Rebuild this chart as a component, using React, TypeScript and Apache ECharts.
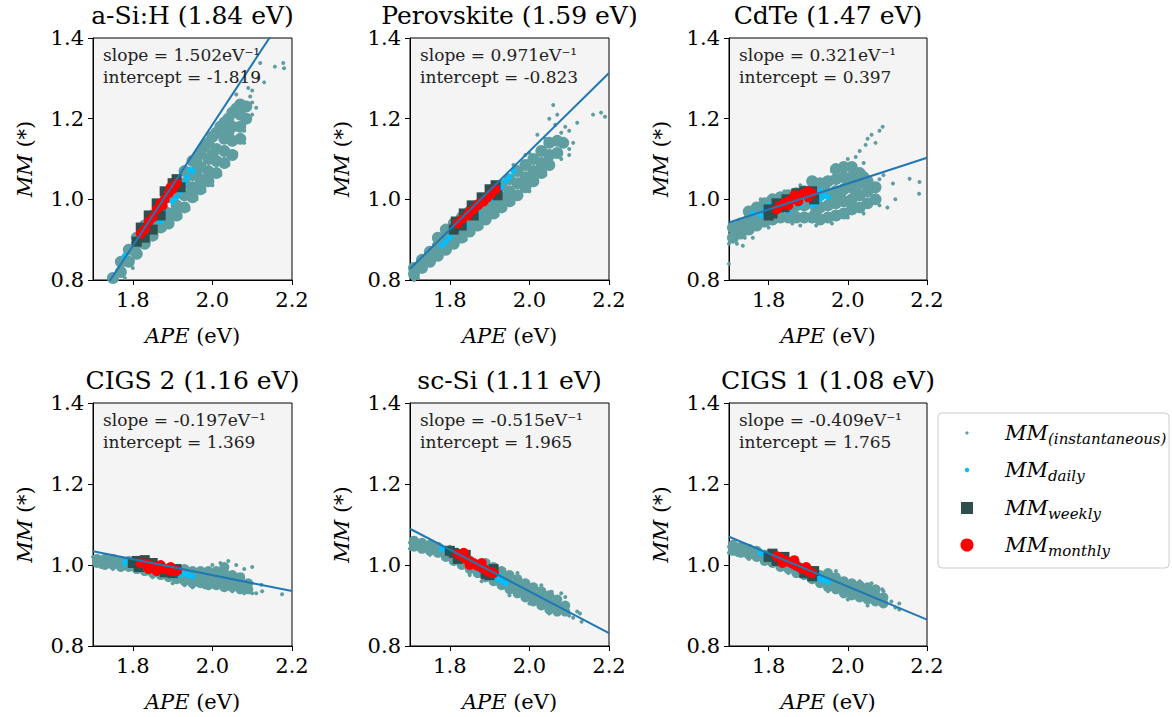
import React, { useEffect, useRef } from "react";
import * as echarts from "echarts";

const FONT = "'DejaVu Serif', 'Liberation Serif', serif";

const panelTitles = [
  "a-Si:H (1.84 eV)",
  "Perovskite (1.59 eV)",
  "CdTe (1.47 eV)",
  "CIGS 2 (1.16 eV)",
  "sc-Si (1.11 eV)",
  "CIGS 1 (1.08 eV)",
];
const slopes = [1.502, 0.971, 0.321, -0.197, -0.515, -0.409];
const intercepts = [-1.819, -0.823, 0.397, 1.369, 1.965, 1.765];
const xTicks = [1.8, 2.0, 2.2];
const yTicks = [0.8, 1.0, 1.2, 1.4];

// instantaneous MM (dense core of the cloud)
const instCore1 = [
  [1.75, 0.805], [1.77, 0.82], [1.77, 0.845], [1.79, 0.845], [1.79, 0.875], [1.81, 0.865], [1.81, 0.89], [1.81, 0.905],
  [1.83, 0.89], [1.83, 0.915], [1.83, 0.935], [1.85, 0.91], [1.85, 0.935], [1.85, 0.96], [1.87, 0.93], [1.87, 0.955],
  [1.87, 0.985], [1.89, 0.94], [1.89, 0.965], [1.89, 1.005], [1.91, 0.96], [1.91, 0.985], [1.91, 1.015], [1.91, 1.04],
  [1.93, 0.98], [1.93, 1.01], [1.93, 1.04], [1.93, 1.07], [1.95, 1.005], [1.95, 1.03], [1.95, 1.06], [1.95, 1.095],
  [1.97, 1.025], [1.97, 1.05], [1.97, 1.08], [1.97, 1.115], [1.99, 1.045], [1.99, 1.07], [1.99, 1.10], [1.99, 1.14],
  [2.01, 1.065], [2.01, 1.095], [2.01, 1.125], [2.01, 1.165], [2.03, 1.09], [2.03, 1.12], [2.03, 1.15], [2.03, 1.19],
  [2.05, 1.11], [2.05, 1.145], [2.05, 1.18], [2.05, 1.215], [2.07, 1.15], [2.07, 1.18], [2.07, 1.21], [2.07, 1.235],
  [2.085, 1.2], [2.085, 1.23], [1.96, 1.07], [2.0, 1.11], [2.04, 1.165], [1.92, 1.025], [1.88, 0.97], [1.84, 0.925],
  [1.96, 1.1], [1.98, 1.13], [2.0, 1.155], [2.02, 1.18], [2.04, 1.2], [2.06, 1.225],
];
const instSparse1 = [
  [1.745, 0.8], [1.76, 0.8], [1.78, 0.805], [1.8, 0.83], [2.1, 1.27], [2.12, 1.338], [2.115, 1.3], [2.157, 1.329],
  [2.178, 1.338], [2.18, 1.325], [2.1, 1.24], [2.11, 1.227], [2.09, 1.276], [2.06, 1.26], [2.13, 1.29], [2.08, 1.14],
  [2.095, 1.255], [2.1, 1.21], [1.8, 0.85], [1.84, 0.895], [1.88, 0.925], [1.92, 0.955], [1.96, 1.0], [2.0, 1.035],
  [2.04, 1.085], [2.06, 1.115], [2.08, 1.17], [1.94, 0.975], [1.98, 1.02], [2.02, 1.06],
];
const instCore2 = [
  [1.71, 0.815], [1.71, 0.83], [1.73, 0.83], [1.73, 0.85], [1.75, 0.845], [1.75, 0.87], [1.77, 0.86], [1.77, 0.885],
  [1.77, 0.905], [1.79, 0.875], [1.79, 0.9], [1.79, 0.925], [1.81, 0.89], [1.81, 0.915], [1.81, 0.94], [1.83, 0.905],
  [1.83, 0.93], [1.83, 0.955], [1.85, 0.92], [1.85, 0.945], [1.85, 0.97], [1.87, 0.935], [1.87, 0.96], [1.87, 0.985],
  [1.89, 0.95], [1.89, 0.975], [1.89, 1.0], [1.91, 0.965], [1.91, 0.99], [1.91, 1.015], [1.93, 0.98], [1.93, 1.005],
  [1.93, 1.035], [1.95, 0.995], [1.95, 1.02], [1.95, 1.05], [1.97, 1.01], [1.97, 1.04], [1.97, 1.07], [1.99, 1.03],
  [1.99, 1.055], [1.99, 1.085], [2.01, 1.045], [2.01, 1.07], [2.01, 1.1], [2.03, 1.065], [2.03, 1.09], [2.03, 1.12],
  [2.05, 1.085], [2.05, 1.11], [2.05, 1.14], [2.07, 1.115], [2.07, 1.145], [2.085, 1.14],
];
const instSparse2 = [
  [2.06, 1.234], [2.07, 1.21], [2.05, 1.2], [2.09, 1.18], [2.1, 1.17], [2.16, 1.21], [2.18, 1.215], [2.19, 1.205],
  [2.12, 1.19], [2.08, 1.165], [2.11, 1.14], [1.71, 0.8], [1.72, 0.805], [2.02, 1.16], [1.99, 1.11], [2.1, 1.125],
  [2.065, 1.185], [1.76, 0.845], [1.8, 0.875], [1.84, 0.9], [1.88, 0.93], [1.92, 0.96], [1.96, 0.99], [2.0, 1.02],
  [2.04, 1.06], [2.08, 1.1], [2.1, 1.11], [2.0, 1.115], [2.04, 1.15], [1.96, 1.085],
];
const instCore3 = [
  [1.71, 0.905], [1.71, 0.93], [1.73, 0.915], [1.73, 0.94], [1.75, 0.925], [1.75, 0.95], [1.75, 0.97], [1.77, 0.935],
  [1.77, 0.96], [1.77, 0.98], [1.79, 0.945], [1.79, 0.97], [1.79, 0.99], [1.81, 0.95], [1.81, 0.975], [1.81, 1.0],
  [1.83, 0.955], [1.83, 0.98], [1.83, 1.005], [1.85, 0.955], [1.85, 0.98], [1.85, 1.01], [1.87, 0.955], [1.87, 0.985],
  [1.87, 1.015], [1.89, 0.955], [1.89, 0.985], [1.89, 1.02], [1.91, 0.955], [1.91, 0.99], [1.91, 1.02], [1.91, 1.045],
  [1.93, 0.95], [1.93, 0.98], [1.93, 1.01], [1.93, 1.04], [1.95, 0.955], [1.95, 0.985], [1.95, 1.015], [1.95, 1.045],
  [1.97, 0.96], [1.97, 0.99], [1.97, 1.02], [1.97, 1.05], [1.97, 1.075], [1.99, 0.965], [1.99, 0.995], [1.99, 1.025],
  [1.99, 1.055], [1.99, 1.08], [2.01, 0.975], [2.01, 1.0], [2.01, 1.03], [2.01, 1.055], [2.01, 1.08], [2.03, 0.98],
  [2.03, 1.01], [2.03, 1.04], [2.03, 1.065], [2.05, 0.99], [2.05, 1.02], [2.05, 1.045], [2.07, 1.0], [2.07, 1.03],
  [1.96, 1.0], [1.98, 1.01], [2.0, 1.04], [2.02, 1.02], [1.94, 1.03], [1.92, 0.97], [2.04, 1.055], [1.86, 0.97],
];
const instSparse3 = [
  [1.7, 0.84], [1.7, 0.89], [1.72, 0.89], [1.735, 0.885], [1.76, 0.905], [2.03, 1.12], [2.05, 1.15], [2.06, 1.16],
  [2.08, 1.17], [2.088, 1.18], [2.02, 1.105], [2.114, 1.039], [2.156, 1.051], [2.181, 1.043], [2.18, 1.014], [2.1, 0.98],
  [2.09, 1.06], [2.12, 1.0], [1.88, 0.935], [1.92, 0.935], [2.045, 1.135], [2.07, 1.14], [1.74, 0.905], [1.8, 0.93],
  [1.86, 0.94], [1.96, 0.94], [2.0, 0.955], [2.04, 0.965], [2.08, 0.985], [1.78, 1.0], [1.84, 1.02], [1.88, 1.035],
  [1.96, 1.07], [2.0, 1.1], [2.04, 1.09], [2.08, 1.05],
];
const instCore4 = [
  [1.71, 1.005], [1.71, 1.015], [1.73, 1.0], [1.73, 1.015], [1.75, 1.0], [1.75, 1.015], [1.77, 0.995], [1.77, 1.01],
  [1.79, 0.995], [1.79, 1.01], [1.81, 0.99], [1.81, 1.005], [1.83, 0.985], [1.83, 1.0], [1.85, 0.98], [1.85, 0.995],
  [1.87, 0.975], [1.87, 0.99], [1.89, 0.97], [1.89, 0.985], [1.91, 0.965], [1.91, 0.98], [1.93, 0.96], [1.93, 0.975],
  [1.93, 0.99], [1.95, 0.955], [1.95, 0.97], [1.95, 0.985], [1.97, 0.955], [1.97, 0.97], [1.97, 0.985], [1.99, 0.95],
  [1.99, 0.965], [1.99, 0.985], [2.01, 0.95], [2.01, 0.965], [2.01, 0.985], [2.03, 0.945], [2.03, 0.96], [2.03, 0.98],
  [2.03, 0.995], [2.05, 0.945], [2.05, 0.96], [2.05, 0.975], [2.07, 0.94], [2.07, 0.955], [2.07, 0.97], [2.09, 0.94],
  [2.09, 0.955],
];
const instSparse4 = [
  [2.1, 0.995], [2.08, 0.99], [2.06, 1.0], [2.02, 1.005], [2.123, 0.951], [2.125, 0.935], [2.175, 0.928], [2.11, 0.93],
  [1.7, 1.02], [1.72, 0.995], [1.93, 0.95], [1.98, 0.945], [2.1, 0.93], [1.75, 0.99], [1.85, 0.97], [1.95, 0.945],
  [2.05, 0.935], [2.0, 1.0], [2.04, 1.01], [2.08, 0.93], [1.9, 0.955],
];
const instCore5 = [
  [1.71, 1.045], [1.71, 1.06], [1.73, 1.04], [1.73, 1.055], [1.75, 1.035], [1.75, 1.05], [1.77, 1.03], [1.77, 1.045],
  [1.79, 1.02], [1.79, 1.035], [1.81, 1.01], [1.81, 1.03], [1.83, 1.0], [1.83, 1.02], [1.85, 0.99], [1.85, 1.01],
  [1.87, 0.98], [1.87, 1.0], [1.89, 0.97], [1.89, 0.99], [1.89, 1.005], [1.91, 0.96], [1.91, 0.975], [1.91, 0.995],
  [1.93, 0.95], [1.93, 0.965], [1.93, 0.985], [1.95, 0.94], [1.95, 0.955], [1.95, 0.975], [1.97, 0.93], [1.97, 0.945],
  [1.97, 0.965], [1.99, 0.92], [1.99, 0.935], [1.99, 0.955], [2.01, 0.91], [2.01, 0.925], [2.01, 0.945], [2.03, 0.9],
  [2.03, 0.915], [2.03, 0.935], [2.05, 0.89], [2.05, 0.905], [2.05, 0.925], [2.07, 0.885], [2.07, 0.9], [2.07, 0.915],
  [2.09, 0.885], [2.09, 0.9],
];
const instSparse5 = [
  [1.7, 1.055], [1.7, 1.04], [2.056, 0.934], [2.09, 0.921], [2.08, 0.93], [2.127, 0.88], [2.131, 0.86], [2.11, 0.87],
  [2.12, 0.885], [2.1, 0.875], [1.88, 0.96], [1.95, 0.925], [1.75, 1.025], [1.85, 0.975], [2.0, 0.905], [2.05, 0.88],
  [1.8, 1.045], [1.97, 0.98], [2.03, 0.95],
];
const instCore6 = [
  [1.71, 1.035], [1.71, 1.05], [1.73, 1.03], [1.73, 1.045], [1.75, 1.025], [1.75, 1.04], [1.77, 1.02], [1.77, 1.035],
  [1.79, 1.01], [1.79, 1.025], [1.81, 1.005], [1.81, 1.02], [1.83, 0.995], [1.83, 1.015], [1.85, 0.99], [1.85, 1.005],
  [1.87, 0.98], [1.87, 1.0], [1.89, 0.975], [1.89, 0.99], [1.91, 0.965], [1.91, 0.985], [1.93, 0.955], [1.93, 0.975],
  [1.95, 0.945], [1.95, 0.965], [1.95, 0.98], [1.97, 0.94], [1.97, 0.955], [1.97, 0.97], [1.99, 0.93], [1.99, 0.945],
  [1.99, 0.96], [2.01, 0.925], [2.01, 0.94], [2.01, 0.955], [2.03, 0.92], [2.03, 0.935], [2.03, 0.95], [2.05, 0.915],
  [2.05, 0.93], [2.05, 0.945], [2.07, 0.91], [2.07, 0.925], [2.07, 0.94], [2.09, 0.905], [2.09, 0.92],
];
const instSparse6 = [
  [1.7, 1.045], [1.7, 1.03], [2.087, 0.94], [2.11, 0.91], [2.13, 0.905], [2.13, 0.89], [2.12, 0.895], [1.72, 1.025],
  [2.06, 0.955], [1.99, 0.925], [1.75, 1.015], [1.85, 0.98], [1.95, 0.935], [2.0, 0.915], [2.05, 0.9], [1.8, 1.035],
  [1.97, 0.985], [2.03, 0.96], [2.09, 0.935],
];

// daily MM
const daily1 = [
  [1.78, 0.86], [1.84, 0.93], [1.86, 0.95], [1.88, 0.97], [1.9, 0.995], [1.91, 1.005], [1.93, 1.04], [1.936, 1.055],
  [1.944, 1.073], [1.95, 1.07], [1.92, 1.02], [1.87, 0.945],
];
const daily2 = [
  [1.78, 0.885], [1.79, 0.895], [1.8, 0.905], [1.93, 1.03], [1.94, 1.045], [1.95, 1.055], [1.96, 1.07], [1.925, 1.02],
  [1.905, 1.0], [1.87, 0.965], [1.84, 0.935],
];
const daily3 = [
  [1.78, 0.96], [1.79, 0.975], [1.8, 0.985], [1.92, 0.99], [1.93, 1.0], [1.94, 1.01], [1.95, 1.005], [1.91, 0.985],
  [1.85, 0.97], [1.76, 0.965], [1.88, 0.985], [1.93, 1.02],
];
const daily4 = [
  [1.78, 1.005], [1.79, 1.01], [1.8, 1.0], [1.92, 0.98], [1.93, 0.978], [1.94, 0.975], [1.915, 0.975], [1.95, 0.972],
  [1.86, 0.99],
];
const daily5 = [
  [1.78, 1.04], [1.79, 1.035], [1.8, 1.03], [1.91, 0.97], [1.92, 0.965], [1.93, 0.96], [1.94, 0.955], [1.875, 0.985],
  [1.925, 0.972],
];
const daily6 = [
  [1.78, 1.03], [1.79, 1.025], [1.8, 1.015], [1.92, 0.97], [1.93, 0.965], [1.94, 0.962], [1.95, 0.958], [1.87, 0.99],
  [1.925, 0.978],
];

// weekly MM
const weekly1 = [
  [1.81, 0.895], [1.82, 0.93], [1.84, 0.96], [1.86, 0.99], [1.87, 0.96], [1.88, 1.02], [1.9, 1.04], [1.91, 1.05],
  [1.92, 1.03], [1.85, 0.925], [1.83, 0.905],
];
const weekly2 = [
  [1.81, 0.925], [1.815, 0.945], [1.835, 0.965], [1.855, 0.985], [1.88, 1.005], [1.9, 1.025], [1.915, 1.035],
  [1.92, 1.01], [1.83, 0.935], [1.86, 0.96],
];
const weekly3 = [
  [1.81, 0.965], [1.8, 0.975], [1.82, 0.99], [1.845, 1.0], [1.87, 1.015], [1.89, 1.02], [1.91, 1.02], [1.915, 1.0],
  [1.84, 0.98], [1.8, 0.96],
];
const weekly4 = [
  [1.81, 1.01], [1.8, 1.005], [1.815, 0.995], [1.83, 1.012], [1.85, 1.005], [1.9, 0.98], [1.91, 0.99], [1.88, 0.982],
];
const weekly5 = [
  [1.8, 1.035], [1.81, 1.03], [1.82, 1.015], [1.84, 1.025], [1.9, 0.975], [1.91, 0.99], [1.89, 0.978],
];
const weekly6 = [
  [1.81, 1.028], [1.8, 1.02], [1.82, 1.01], [1.84, 1.02], [1.91, 0.972], [1.915, 0.985], [1.89, 0.98],
];

// monthly MM
const monthly1 = [
  [1.82, 0.915], [1.83, 0.925], [1.84, 0.945], [1.85, 0.955], [1.86, 0.975], [1.87, 0.99], [1.88, 1.0], [1.89, 1.015],
  [1.9, 1.025], [1.91, 1.04], [1.875, 0.985], [1.895, 1.03],
];
const monthly2 = [
  [1.82, 0.94], [1.83, 0.95], [1.845, 0.96], [1.86, 0.975], [1.87, 0.985], [1.885, 0.995], [1.895, 1.005],
  [1.905, 1.015], [1.915, 1.025], [1.875, 0.99], [1.85, 0.97],
];
const monthly3 = [
  [1.82, 0.975], [1.83, 0.985], [1.84, 0.99], [1.85, 0.995], [1.86, 1.0], [1.87, 1.005], [1.88, 1.01], [1.89, 1.015],
  [1.9, 1.005], [1.91, 1.015], [1.875, 0.995], [1.865, 1.01], [1.85, 0.985], [1.9, 1.02],
];
const monthly4 = [
  [1.82, 1.005], [1.83, 1.003], [1.84, 1.0], [1.85, 0.998], [1.86, 0.995], [1.87, 0.993], [1.88, 0.99], [1.89, 0.988],
  [1.9, 0.985], [1.91, 0.985], [1.84, 0.99], [1.87, 1.0], [1.895, 0.995], [1.86, 0.985],
];
const monthly5 = [
  [1.82, 1.028], [1.83, 1.022], [1.84, 1.015], [1.85, 1.01], [1.86, 1.005], [1.87, 0.998], [1.88, 0.993], [1.89, 0.988],
  [1.9, 0.983], [1.91, 0.98], [1.85, 1.0], [1.88, 1.005], [1.835, 1.03],
];
const monthly6 = [
  [1.82, 1.022], [1.83, 1.018], [1.84, 1.012], [1.85, 1.008], [1.86, 1.003], [1.87, 0.998], [1.88, 0.993], [1.89, 0.99],
  [1.9, 0.985], [1.91, 0.98], [1.835, 1.005], [1.865, 1.012], [1.895, 0.995],
];

const instCore = [instCore1, instCore2, instCore3, instCore4, instCore5, instCore6];
const instSparse = [instSparse1, instSparse2, instSparse3, instSparse4, instSparse5, instSparse6];
const daily = [daily1, daily2, daily3, daily4, daily5, daily6];
const weekly = [weekly1, weekly2, weekly3, weekly4, weekly5, weekly6];
const monthly = [monthly1, monthly2, monthly3, monthly4, monthly5, monthly6];

const legendSub = ["(instantaneous)", "daily", "weekly", "monthly"];

const C_INST = "#5f9ea0";
const C_DAILY = "#00bfff";
const C_WEEKLY = "#2f4f4f";
const C_MONTHLY = "#ff0000";
const C_FIT = "#1f77b4";

const X_MIN = 1.7;
const X_MAX = 2.2;

export default function App() {
  const ref = useRef<HTMLDivElement>(null);

  useEffect(() => {
    document.body.style.margin = "0";
    const chart = echarts.init(ref.current!, null, { renderer: "svg" });

    const lefts = [93, 410, 729];
    const widths = [199, 199, 198];
    const tops = [38, 403];
    const heights = [242, 243];

    const grids: any[] = [];
    const xAxes: any[] = [];
    const yAxes: any[] = [];
    const series: any[] = [];
    const graphics: any[] = [];

    for (let i = 0; i < 6; i++) {
      const r = Math.floor(i / 3);
      const c = i % 3;
      const L = lefts[c];
      const T = tops[r];
      const W = widths[c];
      const H = heights[r];
      grids.push({
        left: L,
        top: T,
        width: W,
        height: H,
        show: true,
        backgroundColor: "#f4f4f4",
        borderColor: "#000",
        borderWidth: 1,
      });
      xAxes.push({
        gridIndex: i,
        type: "value",
        min: X_MIN,
        max: X_MAX,
        axisLine: { show: true, onZero: false, lineStyle: { color: "#000", width: 1 } },
        axisTick: { show: true, length: 5, customValues: xTicks, lineStyle: { color: "#000" } },
        axisLabel: {
          customValues: xTicks,
          formatter: (v: number) => v.toFixed(1),
          fontFamily: FONT,
          fontSize: 21,
          color: "#000",
          margin: 9,
        },
        splitLine: { show: false },
        name: "{i|APE} (eV)",
        nameLocation: "middle",
        nameGap: 45,
        nameTextStyle: {
          fontFamily: FONT,
          fontSize: 21,
          color: "#000",
          rich: { i: { fontFamily: FONT, fontSize: 21, fontStyle: "italic", color: "#000" } },
        },
      });
      yAxes.push({
        gridIndex: i,
        type: "value",
        min: 0.8,
        max: 1.4,
        interval: 0.2,
        axisLine: { show: true, onZero: false, lineStyle: { color: "#000", width: 1 } },
        axisTick: { show: true, length: 5, customValues: yTicks, lineStyle: { color: "#000" } },
        axisLabel: {
          customValues: yTicks,
          formatter: (v: number) => v.toFixed(1),
          fontFamily: FONT,
          fontSize: 21,
          color: "#000",
          margin: 9,
        },
        splitLine: { show: false },
        name: "{i|MM} (*)",
        nameLocation: "middle",
        nameRotate: 90,
        nameGap: 58,
        nameTextStyle: {
          fontFamily: FONT,
          fontSize: 21,
          color: "#000",
          rich: { i: { fontFamily: FONT, fontSize: 21, fontStyle: "italic", color: "#000" } },
        },
      });

      const big = r === 0 ? 12 : 10;
      series.push({
        type: "scatter",
        name: "MM instantaneous",
        xAxisIndex: i,
        yAxisIndex: i,
        data: instCore[i],
        symbol: "circle",
        symbolSize: big,
        itemStyle: { color: C_INST, opacity: 1 },
        silent: true,
      });
      series.push({
        type: "scatter",
        name: "MM instantaneous",
        xAxisIndex: i,
        yAxisIndex: i,
        data: instSparse[i],
        symbol: "circle",
        symbolSize: 4,
        itemStyle: { color: C_INST, opacity: 1 },
        silent: true,
      });
      series.push({
        type: "scatter",
        name: "MM daily",
        xAxisIndex: i,
        yAxisIndex: i,
        data: daily[i],
        symbol: "circle",
        symbolSize: 6,
        itemStyle: { color: C_DAILY, opacity: 1 },
        silent: true,
      });
      series.push({
        type: "scatter",
        name: "MM weekly",
        xAxisIndex: i,
        yAxisIndex: i,
        data: weekly[i],
        symbol: "rect",
        symbolSize: 10,
        itemStyle: { color: C_WEEKLY, opacity: 1 },
        silent: true,
      });
      series.push({
        type: "scatter",
        name: "MM monthly",
        xAxisIndex: i,
        yAxisIndex: i,
        data: monthly[i],
        symbol: "circle",
        symbolSize: 10,
        itemStyle: { color: C_MONTHLY, opacity: 1 },
        silent: true,
      });
      series.push({
        type: "line",
        name: "fit",
        xAxisIndex: i,
        yAxisIndex: i,
        data: [
          [X_MIN, slopes[i] * X_MIN + intercepts[i]],
          [X_MAX, slopes[i] * X_MAX + intercepts[i]],
        ],
        symbol: "none",
        clip: true,
        lineStyle: { color: C_FIT, width: 2 },
        silent: true,
        z: 5,
      });

      // title
      graphics.push({
        type: "text",
        x: L + W / 2,
        y: T - 23,
        style: {
          text: panelTitles[i],
          fontFamily: FONT,
          fontSize: 25,
          fill: "#000",
          align: "center",
          verticalAlign: "middle",
          textAlign: "center",
          textVerticalAlign: "middle",
        },
        z: 10,
      });
      // annotation
      graphics.push({
        type: "text",
        x: L + 10,
        y: T + 17,
        style: {
          text: "slope = " + slopes[i].toFixed(3) + "eV\u207B\u00B9",
          fontFamily: FONT,
          fontSize: 17,
          fill: "#222",
          align: "left",
          verticalAlign: "middle",
          textAlign: "left",
          textVerticalAlign: "middle",
        },
        z: 10,
      });
      graphics.push({
        type: "text",
        x: L + 10,
        y: T + 39,
        style: {
          text: "intercept = " + intercepts[i].toFixed(3),
          fontFamily: FONT,
          fontSize: 17,
          fill: "#222",
          align: "left",
          verticalAlign: "middle",
          textAlign: "left",
          textVerticalAlign: "middle",
        },
        z: 10,
      });
    }

    // legend box
    graphics.push({
      type: "rect",
      shape: { x: 938, y: 413, width: 231, height: 155, r: 4 },
      style: { fill: "#ffffff", stroke: "#cccccc", lineWidth: 1 },
      z: 10,
    });
    const rowsY = [433, 470, 508, 545];
    const iconX = 967;
    graphics.push({ type: "circle", shape: { cx: iconX, cy: rowsY[0], r: 1.6 }, style: { fill: C_INST }, z: 11 });
    graphics.push({ type: "circle", shape: { cx: iconX, cy: rowsY[1], r: 2.2 }, style: { fill: C_DAILY }, z: 11 });
    graphics.push({
      type: "rect",
      shape: { x: iconX - 6, y: rowsY[2] - 6, width: 12, height: 12 },
      style: { fill: C_WEEKLY },
      z: 11,
    });
    graphics.push({ type: "circle", shape: { cx: iconX, cy: rowsY[3], r: 6.5 }, style: { fill: C_MONTHLY }, z: 11 });
    for (let k = 0; k < 4; k++) {
      graphics.push({
        type: "text",
        x: 1005,
        y: rowsY[k],
        style: {
          text: "{m|MM}{s|" + legendSub[k] + "}",
          fontFamily: FONT,
          fill: "#000",
          align: "left",
          verticalAlign: "middle",
          textAlign: "left",
          textVerticalAlign: "middle",
          rich: {
            m: { fontFamily: FONT, fontSize: 21, fontStyle: "italic", fill: "#000", lineHeight: 26 },
            s: { fontFamily: FONT, fontSize: 15, fontStyle: "italic", fill: "#000", verticalAlign: "bottom", lineHeight: 16 },
          },
        },
        z: 11,
      });
    }

    chart.setOption({
      animation: false,
      backgroundColor: "#ffffff",
      textStyle: { fontFamily: FONT },
      grid: grids,
      xAxis: xAxes,
      yAxis: yAxes,
      series,
      graphic: graphics,
    });

    return () => chart.dispose();
  }, []);

  return <div ref={ref} style={{ width: 1172, height: 717 }} />;
}
